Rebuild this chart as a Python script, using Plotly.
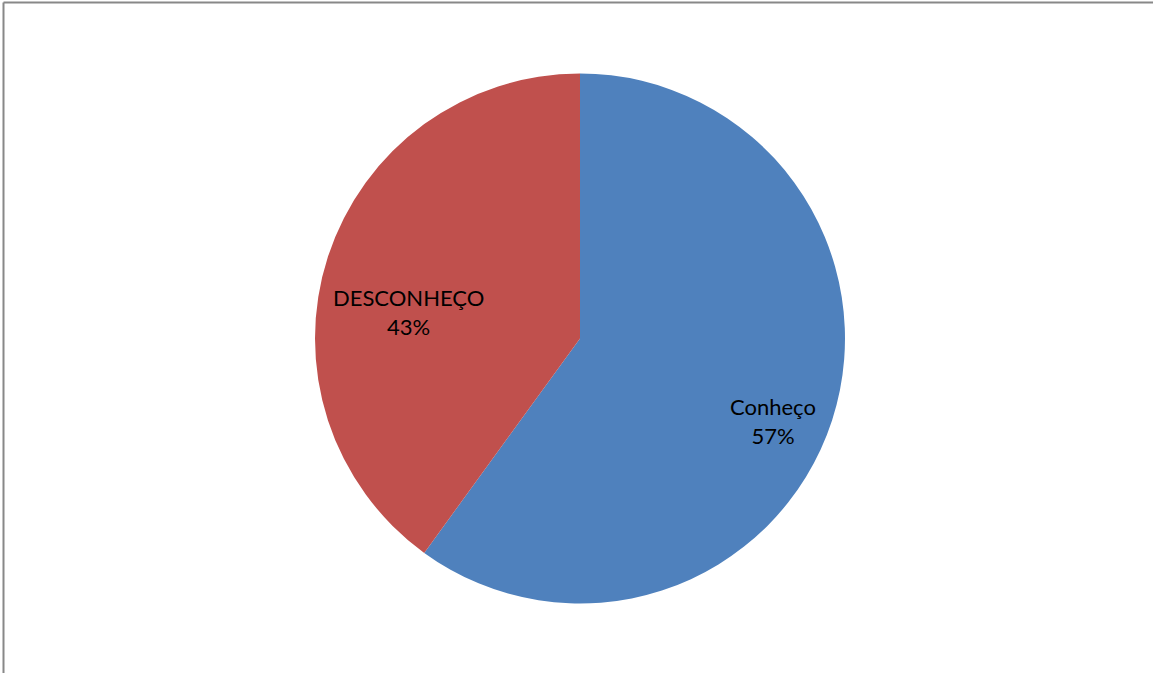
import plotly.graph_objects as go

categories = ["Conheço", "DESCONHEÇO"]
values = [60, 40]
pct_labels = ["57%", "43%"]
colors = ["#4F81BD", "#C0504D"]

W, H = 1153, 673
cx, cy, r = 580, 338.5, 265

fig = go.Figure(go.Pie(
    labels=categories,
    values=values,
    sort=False,
    direction="clockwise",
    rotation=0,
    marker=dict(colors=colors, line=dict(width=0)),
    textinfo="none",
    hoverinfo="label+percent",
    showlegend=False,
    domain=dict(x=[(cx - r) / W, (cx + r) / W], y=[1 - (cy + r) / H, 1 - (cy - r) / H]),
))

label_pos = [(773, 421), (408, 312)]
for cat, pct, (lx, ly) in zip(categories, pct_labels, label_pos):
    fig.add_annotation(
        x=lx / W, y=1 - ly / H, xref="paper", yref="paper",
        xanchor="center", yanchor="middle",
        text=f"{cat}<br>{pct}", showarrow=False,
        font=dict(family="Lato, Open Sans, sans-serif", size=22, color="#000000"),
        align="center",
    )

fig.add_shape(type="line", xref="paper", yref="paper",
              x0=3.5 / W, x1=1, y0=1 - 2.5 / H, y1=1 - 2.5 / H,
              line=dict(color="#888888", width=2))
fig.add_shape(type="line", xref="paper", yref="paper",
              x0=3.5 / W, x1=3.5 / W, y0=0, y1=1 - 2.5 / H,
              line=dict(color="#888888", width=2))

fig.update_layout(
    width=W, height=H,
    margin=dict(l=0, r=0, t=0, b=0),
    paper_bgcolor="white", plot_bgcolor="white",
)

fig.write_html("out.html")
